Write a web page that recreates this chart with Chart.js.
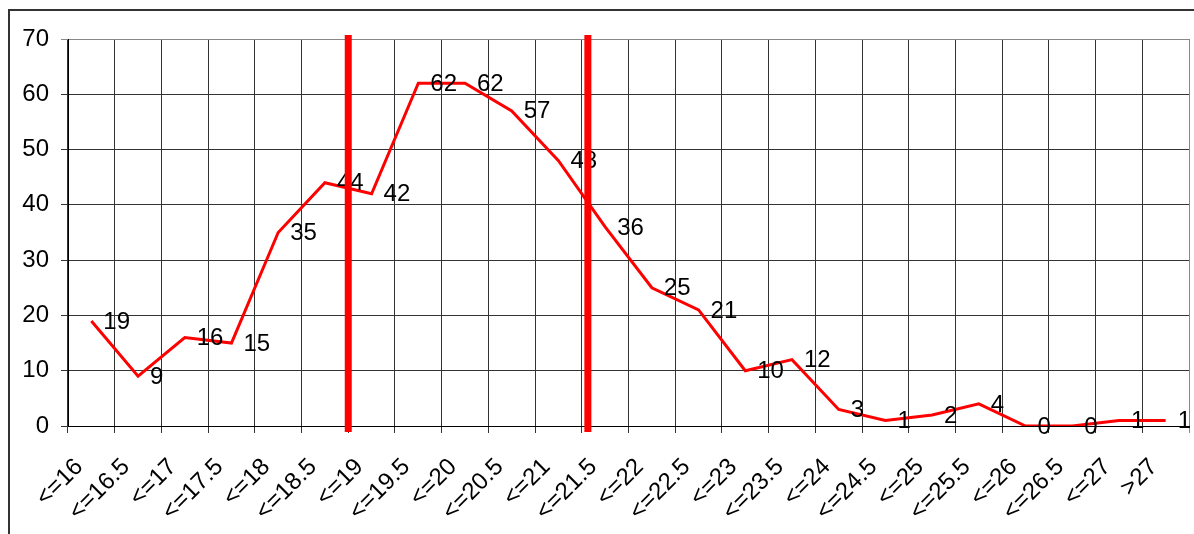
<!DOCTYPE html>
<html>
<head>
<meta charset="utf-8">
<script src="https://cdn.jsdelivr.net/npm/chart.js@4.4.1/dist/chart.umd.min.js"></script>
<style>
  html, body { margin: 0; padding: 0; background: #fff; overflow: hidden; }
  #frame { position: absolute; left: 8px; top: 9px; width: 1300px; height: 700px;
           border-top: 2px solid #333; border-left: 2px solid #333; }
  #Linechart { position: absolute; left: 0; top: 0; }
</style>
</head>
<body>
<div id="frame"></div>
<canvas id="Linechart" width="1194" height="534"></canvas>
<script>
const categories = ["<=16", "<=16.5", "<=17", "<=17.5", "<=18", "<=18.5", "<=19", "<=19.5",
  "<=20", "<=20.5", "<=21", "<=21.5", "<=22", "<=22.5", "<=23", "<=23.5", "<=24", "<=24.5",
  "<=25", "<=25.5", "<=26", "<=26.5", "<=27", ">27"];
const counts = [19, 9, 16, 15, 35, 44, 42, 62, 62, 57, 48, 36, 25, 21, 10, 12, 3, 1, 2, 4, 0, 0, 1, 1];
const yTicks = [0, 10, 20, 30, 40, 50, 60, 70];
// red marker lines, in category-index units
const markerPositions = [5.5, 10.63];

const FONT = '"Liberation Sans", Arial, sans-serif';

const overlay = {
  id: "overlay",
  afterDatasetsDraw(chart) {
    const ctx = chart.ctx;
    const meta = chart.getDatasetMeta(0);
    const x = chart.scales.x;
    const area = chart.chartArea;

    ctx.save();
    ctx.font = "24px " + FONT;
    ctx.fillStyle = "#000";
    ctx.textAlign = "left";
    ctx.textBaseline = "middle";
    meta.data.forEach((pt, i) => {
      ctx.fillText(String(counts[i]), pt.x + 12, pt.y + 1);
    });

    ctx.strokeStyle = "#ff0000";
    ctx.lineWidth = 7;
    markerPositions.forEach(m => {
      const px = x.getPixelForValue(m);
      ctx.beginPath();
      ctx.moveTo(px, area.top - 4);
      ctx.lineTo(px, area.bottom + 6);
      ctx.stroke();
    });
    ctx.restore();
  }
};

new Chart(document.getElementById("Linechart"), {
  type: "line",
  data: {
    labels: categories,
    datasets: [{
      data: counts,
      borderColor: "#ff0000",
      borderWidth: 3,
      pointRadius: 0,
      tension: 0,
      fill: false
    }]
  },
  options: {
    responsive: false,
    animation: false,
    layout: { padding: { top: 39, left: 0, right: 5, bottom: 0 } },
    plugins: { legend: { display: false }, tooltip: { enabled: false } },
    scales: {
      x: {
        offset: true,
        grid: {
          offset: true,
          color: c => (c.tick ? "#333" : "#888"),
          lineWidth: 1,
          tickLength: 7
        },
        border: { color: "#000", width: 1 },
        ticks: {
          autoSkip: false,
          minRotation: 45,
          maxRotation: 45,
          padding: 20,
          labelOffset: -12,
          color: "#000",
          font: { family: FONT, size: 24 }
        },
        afterFit: s => { s.height = 108; s.paddingLeft = 0; s.paddingRight = 0; }
      },
      y: {
        min: 0,
        max: 70,
        afterBuildTicks: s => { s.ticks = yTicks.map(v => ({ value: v })); },
        grid: {
          color: c => (c.tick && c.tick.value === 70 ? "#888" : "#333"),
          lineWidth: 1,
          tickLength: 7
        },
        border: { color: "#000", width: 1 },
        ticks: {
          padding: 12,
          color: "#000",
          font: { family: FONT, size: 24 }
        },
        afterFit: s => { s.width = 68; }
      }
    }
  },
  plugins: [overlay]
});
</script>
</body>
</html>
